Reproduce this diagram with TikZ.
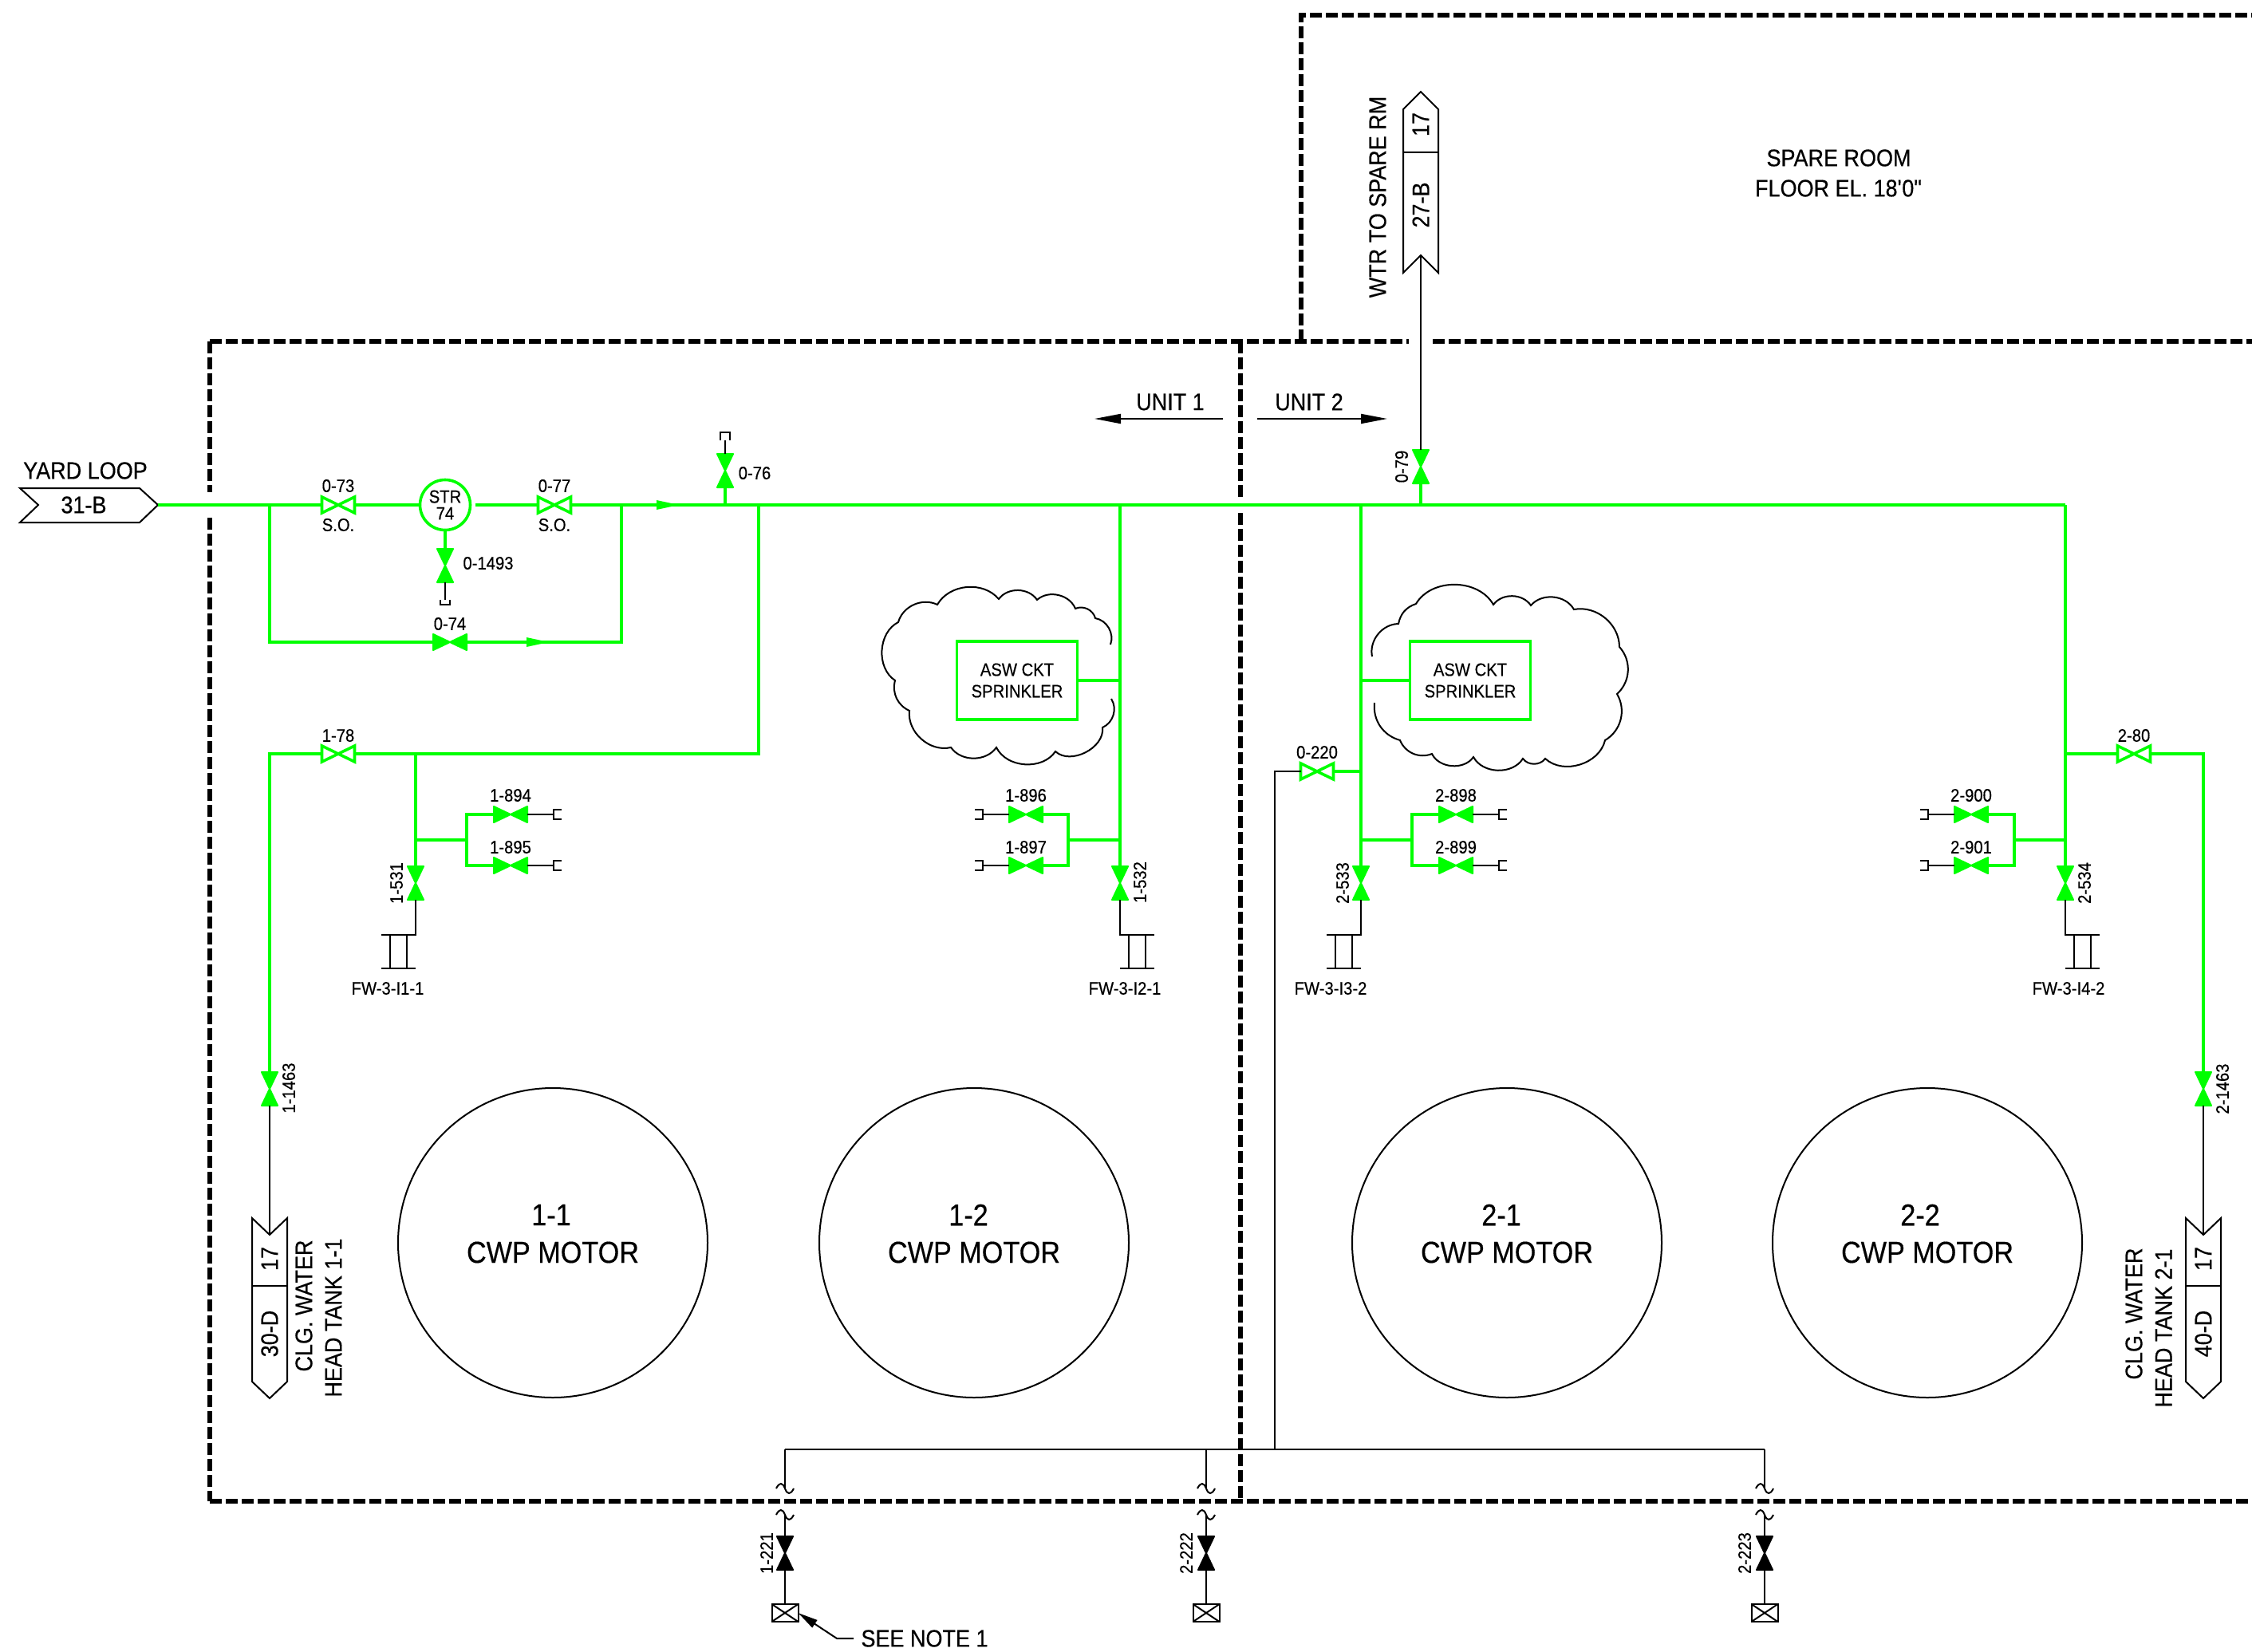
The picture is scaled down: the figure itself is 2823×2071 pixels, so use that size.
\documentclass[tikz,border=0pt]{standalone}
\usepackage{fontspec}
\setmainfont[FakeStretch=0.9,FakeBold=0.4]{Liberation Sans}
\usetikzlibrary{arrows.meta}
\definecolor{pipecolor}{RGB}{0,255,0}
\begin{document}
\begin{tikzpicture}
[x=1pt,y=-1pt,
  pipeline/.style={draw=pipecolor,line width=3.6pt},
  thinline/.style={draw=black,line width=2pt},
  roomline/.style={draw=black,line width=6pt,dash pattern=on 15pt off 5pt},
  valvedecorate/.style={shape=rectangle,inner sep=0pt,outer sep=0pt,minimum width=42pt,minimum height=20pt},
  valvevert/.style={valvedecorate,minimum width=20pt,minimum height=42pt},
  valveopen/.style={valvedecorate,minimum width=41pt,minimum height=20pt},
  valvefill/.style={line width=2pt,line join=round},
  smalltext/.style={inner sep=0pt,font=\fontsize{22.5}{27}\selectfont,align=center},
  midtext/.style={inner sep=0pt,font=\fontsize{30}{38}\selectfont,align=center},
  bigtext/.style={inner sep=0pt,font=\fontsize{38}{46}\selectfont,align=center},
  flowarrow/.style={-{Triangle[length=33pt,width=12pt]},thinline},
  motordecorate/.style={shape=circle,draw=black,line width=2pt,inner sep=0pt,minimum size=388pt},
  aswdecorate/.style={shape=rectangle,draw=pipecolor,line width=3.6pt,inner sep=0pt,minimum width=151pt,minimum height=98pt}]
\useasboundingbox (0,0) rectangle (2823,2071);
%% rooms
\foreach \xa/\ya/\xb/\yb in {263/428/1766/428, 1796/428/2823/428, 263/428/263/617,
  263/649/263/1882, 263/1882/2823/1882, 1555/428/1555/623, 1555/643/1555/1882} {
  \draw[roomline] (\xa,\ya) -- (\xb,\yb);
}
\draw[roomline] (1631,428) -- (1631,19) -- (2823,19);
\node (spareroom) at (2305,198) [midtext] {SPARE ROOM};
\node (sparefloor) at (2305,236) [midtext] {FLOOR EL. 18\textquotesingle 0\textquotedbl};
\node (unitone) at (1467,504) [midtext] {UNIT 1};
\node (unittwo) at (1641,504) [midtext] {UNIT 2};
\coordinate (unitoneA) at (1533,525);
\coordinate (unitoneB) at (1372,525);
\coordinate (unittwoA) at (1576,525);
\coordinate (unittwoB) at (1739,525);
\draw[flowarrow] (unitoneA) -- (unitoneB);
\draw[flowarrow] (unittwoA) -- (unittwoB);
%% motors
\foreach \nodename/\x/\numx/\num in {motoroneone/693/691/1-1, motoronetwo/1221/1214/1-2,
  motortwoone/1889/1882/2-1, motortwotwo/2416/2407/2-2} {
  \node (\nodename) at (\x,1558) [motordecorate] {};
  \node (num\nodename) at (\numx,1523) [bigtext] {\num};
  \node (txt\nodename) at (\x,1570) [bigtext] {CWP MOTOR};
}
%% clouds
\draw[thinline] (1392,808) to[bend right=50] (1373,775) to[bend right=50] (1348,763)
  to[bend right=55] (1300,752) to[bend right=55] (1252,751) to[bend right=55] (1175,758)
  to[bend right=50] (1126,780) to[bend right=60] (1122,853) to[bend right=40] (1140,891)
  to[bend right=55] (1192,937) to[bend right=55] (1249,937) to[bend right=60] (1323,942)
  to[bend right=70] (1382,912) to[bend right=50] (1393,876);
\draw[thinline] (1720,823) to[bend left=50] (1753,782) to[bend left=30] (1775,757)
  to[bend left=60] (1872,758) to[bend left=55] (1919,759) to[bend left=55] (1973,764)
  to[bend left=50] (2030,811) to[bend left=45] (2027,870) to[bend left=45] (2012,928)
  to[bend left=60] (1937,951) to[bend left=55] (1909,951) to[bend left=60] (1847,949)
  to[bend left=60] (1795,945) to[bend left=45] (1755,928) to[bend left=40] (1723,881);
%% valves, filled and flat
\foreach \nodename/\x/\y/\ly in {0-74/564/805/782, 1-894/640/1021/997, 1-895/640/1085/1062,
  1-896/1286/1021/997, 1-897/1286/1085/1062, 2-898/1825/1021/997, 2-899/1825/1085/1062,
  2-900/2471/1021/997, 2-901/2471/1085/1062} {
  \node (\nodename) at (\x,\y) [valvedecorate] {};
  \filldraw[pipecolor,valvefill] (\nodename.north west) -- (\nodename.south east)
    -- (\nodename.north east) -- (\nodename.south west) -- cycle;
  \node (lbl\nodename) at (\x,\ly) [smalltext] {\nodename};
}
%% valves, filled and upright
\foreach \nodename/\x/\y/\lx/\ly/\rot in {0-76/909/590/946/593/0, 0-1493/558/709/612/706/0,
  0-79/1781/585/1757/585/90, 1-531/521/1107/497/1107/90, 1-532/1404/1107/1429/1106/90,
  2-533/1706/1107/1683/1107/90, 2-534/2589/1107/2613/1107/90,
  1-1463/338/1365/362/1364/90, 2-1463/2762/1365/2786/1365/90} {
  \node (\nodename) at (\x,\y) [valvevert] {};
  \filldraw[pipecolor,valvefill] (\nodename.north west) -- (\nodename.south east)
    -- (\nodename.south west) -- (\nodename.north east) -- cycle;
  \node (lbl\nodename) at (\lx,\ly) [smalltext,rotate=\rot] {\nodename};
}
%% valves, open
\foreach \nodename/\x/\y/\ly in {0-73/424/633/609, 0-77/695/633/609, 1-78/424/945/922,
  2-80/2675/945/922, 0-220/1651/967/943} {
  \node (\nodename) at (\x,\y) [valveopen] {};
  \draw[pipeline] (\nodename.north west) -- (\nodename.south east)
    -- (\nodename.north east) -- (\nodename.south west) -- cycle;
  \node (lbl\nodename) at (\x,\ly) [smalltext] {\nodename};
}
\node (sotwo) at (424,658) [smalltext] {S.O.};
\node (sothree) at (695,658) [smalltext] {S.O.};
%% strainer and sprinkler boxes
\node (str) at (558,633) [shape=circle,draw=pipecolor,line width=3.6pt,inner sep=0pt,minimum size=63pt,
  font=\fontsize{22.5}{21}\selectfont,align=center] {STR\\74};
\node (aswone) at (1275,853) [aswdecorate,smalltext] {ASW CKT\\SPRINKLER};
\node (aswtwo) at (1843,853) [aswdecorate,smalltext] {ASW CKT\\SPRINKLER};
%% tags
\foreach \tagname/\x/\lowtext in {tankone/338/30-D, tanktwo/2762/40-D} {
  \draw[thinline] (\x-22,1527) -- (\x,1548) -- (\x+22,1527) -- (\x+22,1732) -- (\x,1753)
    -- (\x-22,1732) -- cycle (\x-22,1612) -- (\x+22,1612);
  \coordinate (\tagname) at (\x,1548);
  \node (high\tagname) at (\x,1578) [midtext,rotate=90] {17};
  \node (low\tagname) at (\x,1672) [midtext,rotate=90] {\lowtext};
}
\draw[thinline] (1759,137) -- (1781,115) -- (1803,137) -- (1803,342) -- (1781,320)
  -- (1759,342) -- cycle (1759,191) -- (1803,191);
\coordinate (tagspare) at (1781,320);
\node (highspare) at (1781,156) [midtext,rotate=90] {17};
\node (lowspare) at (1781,257) [midtext,rotate=90] {27-B};
\node (lblspare) at (1727,247) [midtext,rotate=90] {WTR TO SPARE RM};
\node (lbltankA) at (381,1637) [midtext,rotate=90] {CLG. WATER};
\node (lbltankB) at (418,1652) [midtext,rotate=90] {HEAD TANK 1-1};
\node (lbltankC) at (2675,1647) [midtext,rotate=90] {CLG. WATER};
\node (lbltankD) at (2712,1665) [midtext,rotate=90] {HEAD TANK 2-1};
\draw[thinline] (25,612) -- (175,612) -- (198,633) -- (175,655) -- (25,655) -- (48,633) -- cycle;
\coordinate (yardtip) at (198,633);
\node (lblyard) at (107,590) [midtext] {YARD LOOP};
\node (yardtag) at (105,633) [midtext] {31-B};
%% junctions
\foreach \nodename/\x/\y in {jbyA/338/633, jbyB/779/633, jmainA/909/633, jmainB/951/633,
  jmainC/1404/633, jmainD/1706/633, jmainE/1781/633, jmainF/2589/633, strout/596/633,
  jloopA/951/945, jloopB/521/945, jbranchA/521/1053, jbrA/585/1053, jbranchB/1404/1053,
  jbrB/1339/1053, jbranchC/1706/1053, jbrC/1770/1053, jbranchD/2589/1053, jbrD/2525/1053,
  jaswA/1404/853, jaswB/1706/853, jfeed/1706/967, jloopC/2589/945, jdrainA/1598/1817} {
  \coordinate (\nodename) at (\x,\y);
}
%% green pipes
\path[pipeline]
  (yardtip) -- (0-73.west) (0-73.east) -- (str.west) (strout) -- (0-77.west) (0-77.east) -- (jmainF)
  (jbyA) |- (0-74.west) (0-74.east) -| (jbyB)
  (jmainA) -- (0-76.south) (str.south) -- (0-1493.north) (jmainE) -- (0-79.south)
  (jmainB) -- (jloopA) -- (1-78.east) (1-78.west) -| (1-1463.north)
  (jloopB) -- (1-531.north) (jbranchA) -- (jbrA)
  (1-894.west) -| (jbrA) |- (1-895.west)
  (jmainC) -- (1-532.north) (jbranchB) -- (jbrB)
  (1-896.east) -| (jbrB) |- (1-897.east)
  (jmainD) -- (2-533.north) (jbranchC) -- (jbrC)
  (2-898.west) -| (jbrC) |- (2-899.west)
  (jmainF) -- (2-534.north) (jbranchD) -- (jbrD)
  (2-900.east) -| (jbrD) |- (2-901.east)
  (jloopC) -- (2-80.west) (2-80.east) -| (2-1463.north)
  (aswone.east) -- (jaswA) (aswtwo.west) -- (jaswB) (jfeed) -- (0-220.east);
\foreach \x/\y in {823/633, 660/805} {
  \fill[pipecolor] (\x,\y-6) -- (\x+28,\y) -- (\x,\y+6) -- cycle;
}
%% hose ends
\foreach \nodename/\x/\y/\dir/\navigate in {1-894/640/1021/1/east, 1-895/640/1085/1/east,
  1-896/1286/1021/-1/west, 1-897/1286/1085/-1/west, 2-898/1825/1021/1/east,
  2-899/1825/1085/1/east, 2-900/2471/1021/-1/west, 2-901/2471/1085/-1/west} {
  \draw[thinline] (\nodename.\navigate) -- (\x+\dir*54,\y);
  \draw[thinline] (\x+\dir*64,\y-6) -- (\x+\dir*54,\y-6) -- (\x+\dir*54,\y+6) -- (\x+\dir*64,\y+6);
}
\draw[thinline] (0-76.north) -- (909,552) (903,552) -- (903,542) -- (915,542) -- (915,552);
\draw[thinline] (0-1493.south) -- (558,752) (552,752) -- (552,758) -- (564,758) -- (564,752);
%% flanges
\foreach \nodename/\x/\dir/\flangetext/\lx in {1-531/521/-1/FW-3-I1-1/486, 1-532/1404/1/FW-3-I2-1/1410,
  2-533/1706/-1/FW-3-I3-2/1668, 2-534/2589/1/FW-3-I4-2/2593} {
  \draw[thinline] (\nodename.south) -- (\x,1172) -- (\x+\dir*43,1172) (\x,1214) -- (\x+\dir*43,1214)
    (\x+\dir*11,1172) -- (\x+\dir*11,1214) (\x+\dir*32,1172) -- (\x+\dir*32,1214);
  \node (lblf\nodename) at (\lx,1239) [smalltext] {\flangetext};
}
\draw[thinline] (0-79.north) -- (tagspare);
\draw[thinline] (1-1463.south) -- (tankone);
\draw[thinline] (2-1463.south) -- (tanktwo);
%% drains
\foreach \nodename/\x/\lx/\boxname in {1-221/984/961/drainone, 2-222/1512/1487/draintwo, 2-223/2212/2187/drainthree} {
  \node (\nodename) at (\x,1947) [valvevert] {};
  \filldraw[black,valvefill] (\nodename.north west) -- (\nodename.south east)
    -- (\nodename.south west) -- (\nodename.north east) -- cycle;
  \node (lbl\nodename) at (\lx,1947) [smalltext,rotate=90] {\nodename};
  \node (\boxname) at (\x,2022) [shape=rectangle,draw=black,line width=2pt,inner sep=0pt,outer sep=0pt,
    minimum width=33pt,minimum height=22pt] {};
  \draw[thinline] (\boxname.north west) -- (\boxname.south east) (\boxname.north east) -- (\boxname.south west);
  \coordinate (top\boxname) at (\x,1817);
  \draw[thinline] (top\boxname) -- (\x,1866) (\x,1899) -- (\nodename.north) (\nodename.south) -- (\boxname.north);
  \foreach \yw in {1866,1899} {
    \draw[thinline] (\x-11,\yw) .. controls (\x-7,\yw-8) and (\x-3,\yw-8) .. (\x,\yw)
      .. controls (\x+3,\yw+8) and (\x+7,\yw+8) .. (\x+11,\yw);
  }
}
\draw[thinline] (topdrainone) -- (topdrainthree);
\draw[thinline] (0-220.west) -| (jdrainA);
\node (seenote) at (1159,2054) [midtext] {SEE NOTE 1};
\coordinate (seetail) at (1070,2054);
\coordinate (seeknee) at (1049,2054);
\draw[thinline,-{Triangle[length=25pt,width=11pt]}] (seetail) -- (seeknee) -- (drainone.east);
\end{tikzpicture}
\end{document}
